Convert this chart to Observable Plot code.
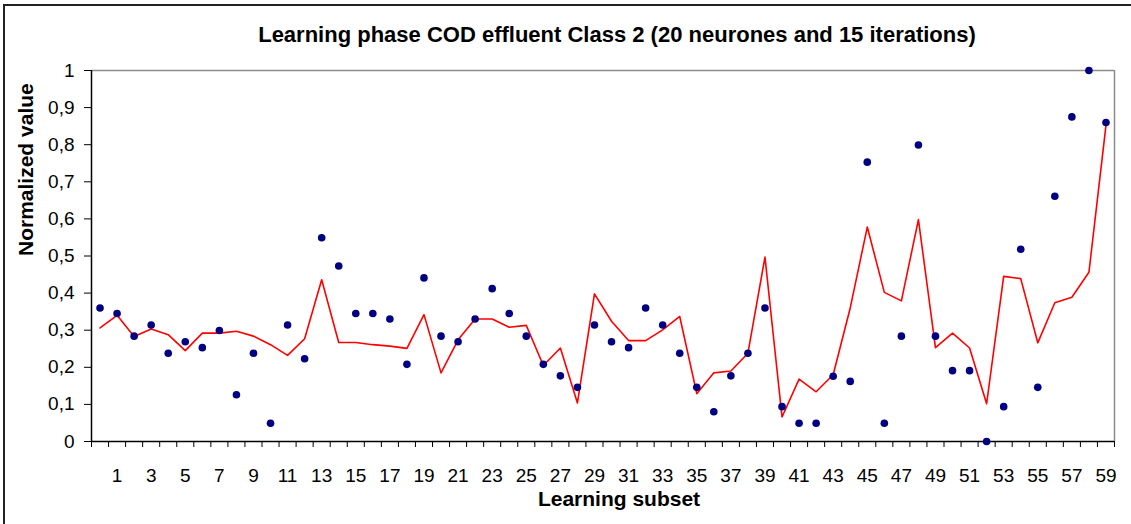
<!DOCTYPE html>
<html><head><meta charset="utf-8">
<script src="https://cdn.jsdelivr.net/npm/d3@7"></script>
<script src="https://cdn.jsdelivr.net/npm/@observablehq/plot@0.6"></script>
<style>
body{margin:0;background:#fff;font-family:"Liberation Sans",Arial,sans-serif;}
#wrap{position:relative;width:1131px;height:524px;overflow:hidden;background:#fff;}
#border{position:absolute;left:3px;top:4px;width:1200px;height:600px;border-left:2px solid #222;border-top:2px solid #222;}
#title{position:absolute;left:0;top:0;width:1131px;height:55px;box-sizing:border-box;padding-left:103px;padding-top:23px;text-align:center;font-weight:bold;font-size:22px;line-height:24px;color:#000;}
#plot{position:absolute;left:0;top:55px;}
</style></head>
<body>
<div id="wrap">
  <div id="border"></div>
  <div id="title">Learning phase COD effluent Class 2 (20 neurones and 15 iterations)</div>
  <div id="plot"></div>
</div>
<script>
// Observed normalized values (dots), learning subsets 0..59
const observed = [0.36, 0.345, 0.284, 0.314, 0.238, 0.269, 0.253, 0.299, 0.126, 0.238,
  0.049, 0.314, 0.223, 0.549, 0.473, 0.345, 0.345, 0.33, 0.208, 0.441,
  0.284, 0.269, 0.33, 0.412, 0.345, 0.284, 0.208, 0.177, 0.146, 0.314,
  0.269, 0.253, 0.36, 0.314, 0.238, 0.146, 0.08, 0.177, 0.238, 0.36,
  0.094, 0.049, 0.049, 0.176, 0.162, 0.753, 0.049, 0.284, 0.799, 0.284,
  0.191, 0.191, 0.0, 0.094, 0.518, 0.146, 0.661, 0.875, 1.0, 0.86];
// Network output (red line)
const predicted = [0.306, 0.34, 0.283, 0.303, 0.288, 0.245, 0.292, 0.292, 0.297, 0.284,
  0.261, 0.232, 0.277, 0.436, 0.267, 0.267, 0.261, 0.257, 0.251, 0.342,
  0.185, 0.274, 0.33, 0.33, 0.308, 0.313, 0.205, 0.252, 0.104, 0.398,
  0.324, 0.272, 0.272, 0.301, 0.337, 0.129, 0.185, 0.19, 0.238, 0.497,
  0.066, 0.168, 0.134, 0.18, 0.36, 0.578, 0.402, 0.379, 0.598, 0.253,
  0.292, 0.252, 0.102, 0.445, 0.439, 0.266, 0.374, 0.389, 0.456, 0.852];
const xTickLabels = [1,3,5,7,9,11,13,15,17,19,21,23,25,27,29,31,33,35,37,39,41,43,45,47,49,51,53,55,57,59];
const yTicks = [0, 0.1, 0.2, 0.3, 0.4, 0.5, 0.6, 0.7, 0.8, 0.9, 1];

const rows = observed.map((v, i) => ({subset: i, observed: v, predicted: predicted[i]}));
const xDomain = [-0.5, observed.length - 0.5];
const boundaries = d3.range(xDomain[0], xDomain[1] + 0.01, 1);

const chart = Plot.plot({
  width: 1131,
  height: 469,
  marginLeft: 91,
  marginRight: 17,
  marginTop: 15,
  marginBottom: 83,
  style: {fontFamily: "'Liberation Sans', Arial, sans-serif", fontSize: "19px", color: "#000", background: "transparent"},
  x: {type: "linear", domain: xDomain},
  y: {domain: [0, 1]},
  marks: [
    Plot.ruleY([1], {stroke: "#8c8c8c", strokeWidth: 1.5}),
    Plot.ruleX([xDomain[1]], {stroke: "#8c8c8c", strokeWidth: 1.5}),
    Plot.ruleY([0], {stroke: "#000", strokeWidth: 1.5}),
    Plot.ruleX([xDomain[0]], {stroke: "#000", strokeWidth: 1.5}),
    Plot.axisY({ticks: yTicks, tickSize: 7, tickPadding: 10, label: null,
      tickFormat: d => String(d).replace(".", ",")}),
    Plot.axisX({ticks: boundaries, tickSize: 6, tickFormat: () => "", label: null}),
    Plot.axisX({ticks: xTickLabels, tickSize: 0, tickPadding: 27, label: null, tickFormat: d => String(d)}),
    Plot.line(rows, {x: "subset", y: "predicted", stroke: "#ff0000", strokeWidth: 1.6}),
    Plot.dot(rows, {x: "subset", y: "observed", r: 3.8, fill: "#000080", stroke: "none"}),
    Plot.text(["Normalized value"], {text: d => d, frameAnchor: "left", dx: -65, rotate: -90,
      fontWeight: "bold", fontSize: 21, fill: "#000"}),
    Plot.text(["Learning subset"], {text: d => d, frameAnchor: "bottom", dx: 16, dy: 64,
      fontWeight: "bold", fontSize: 21, fill: "#000"})
  ]
});
document.getElementById("plot").appendChild(chart);
</script>
</body></html>
